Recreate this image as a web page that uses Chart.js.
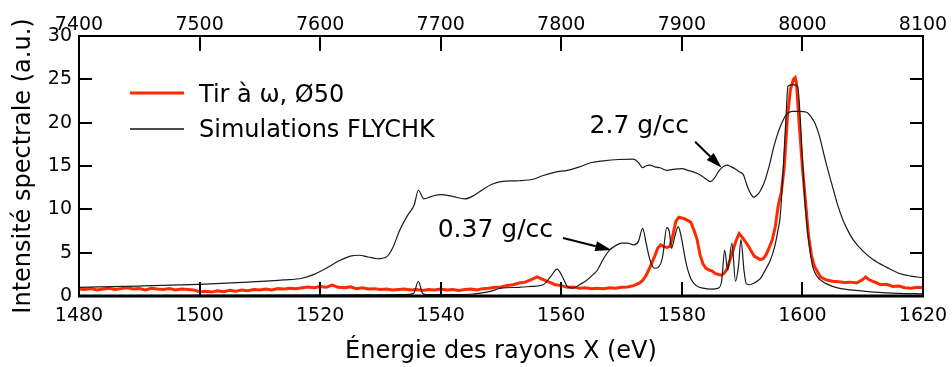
<!DOCTYPE html>
<html>
<head>
<meta charset="utf-8">
<script src="https://cdn.jsdelivr.net/npm/chart.js@4/dist/chart.umd.min.js"></script>
<style>
  html, body { margin: 0; padding: 0; background: #fff; }
  #spectre { display: block; }
</style>
</head>
<body>
<canvas id="spectre" width="952" height="367"></canvas>
<script>
// Spectre mesuré (tir à ω, Ø50)
const expE = [1480, 1481, 1482, 1483, 1484, 1485, 1486, 1487, 1488, 1489, 1490, 1491, 1492, 1493, 1494, 1495, 1496, 1497, 1498, 1499,
  1500, 1501, 1502, 1503, 1504, 1505, 1506, 1507, 1508, 1509, 1510, 1511, 1512, 1513, 1514, 1515, 1516, 1517, 1518, 1519,
  1520, 1521, 1522, 1523, 1524, 1525, 1526, 1527, 1528, 1529, 1530, 1531, 1532, 1533, 1534, 1535, 1536, 1537, 1538, 1539,
  1540, 1541, 1542, 1543, 1544, 1545, 1546, 1547, 1548, 1549, 1550, 1551, 1552, 1553, 1554, 1555, 1556, 1557, 1558, 1559,
  1560, 1561, 1562, 1563, 1564, 1565, 1566, 1567, 1568, 1569, 1570, 1571, 1572, 1573, 1573.5, 1574, 1574.5, 1575, 1575.5, 1576,
  1576.5, 1577, 1577.5, 1578, 1578.5, 1579, 1579.5, 1580, 1580.5, 1581, 1581.5, 1582, 1582.5, 1583, 1583.5, 1584, 1584.5, 1585, 1585.5, 1586,
  1586.5, 1587, 1587.5, 1588, 1588.5, 1589, 1589.5, 1590, 1590.5, 1591, 1591.5, 1592, 1592.5, 1593, 1593.5, 1594, 1594.5, 1595, 1595.5, 1596,
  1596.5, 1597, 1597.5, 1598, 1598.5, 1598.8, 1599, 1599.5, 1600, 1600.5, 1601, 1601.5, 1602, 1602.5, 1603, 1604, 1605, 1606, 1607, 1608,
  1609, 1610, 1610.5, 1611, 1612, 1613, 1614, 1615, 1616, 1617, 1618, 1619, 1620];
const expI = [0.8, 0.75, 0.85, 0.7, 0.8, 0.9, 0.75, 0.85, 0.95, 0.8, 0.85, 0.7, 0.9, 0.8, 0.75, 0.85, 0.7, 0.8, 0.75, 0.7,
  0.5, 0.55, 0.45, 0.6, 0.5, 0.65, 0.55, 0.7, 0.6, 0.75, 0.7, 0.8, 0.7, 0.85, 0.8, 0.9, 0.85, 0.95, 1.05, 0.95,
  1.1, 1.0, 1.25, 1.0, 0.95, 1.05, 0.85, 0.95, 0.8, 0.85, 0.75, 0.8, 0.7, 0.75, 0.8, 0.7, 0.75, 0.65, 0.75, 0.7,
  0.8, 0.7, 0.75, 0.65, 0.75, 0.8, 0.7, 0.85, 0.9, 1.0, 1.05, 1.2, 1.3, 1.5, 1.6, 1.9, 2.2, 1.9, 1.6, 1.3,
  1.2, 1.0, 1.05, 0.9, 0.95, 0.85, 0.9, 0.85, 0.95, 0.9, 1.0, 1.05, 1.2, 1.5, 1.8, 2.3, 3.0, 3.8, 4.6, 5.5,
  5.9, 5.7, 5.6, 5.7, 7.0, 8.6, 9.1, 9.0, 8.9, 8.7, 8.5, 7.6, 6.6, 4.8, 3.7, 3.2, 3.0, 2.9, 2.6, 2.5,
  2.4, 2.6, 3.1, 4.2, 5.3, 6.4, 7.2, 6.8, 6.3, 5.8, 5.2, 4.6, 4.4, 4.2, 4.3, 4.8, 5.6, 6.5, 8.0, 10.5,
  12.0, 15.0, 20.5, 23.8, 25.0, 25.2, 24.6, 19.5, 14.8, 11.0, 7.0, 4.7, 3.4, 2.8, 2.2, 1.85, 1.7, 1.65, 1.55, 1.6,
  1.5, 1.9, 2.2, 1.9, 1.6, 1.3, 1.35, 1.1, 1.15, 0.95, 0.9, 1.0, 0.95];

// Simulation FLYCHK, 0.37 g/cc
const lowE = [1480, 1500, 1520, 1534, 1535.5, 1536.3, 1537, 1538, 1545, 1548, 1550, 1553, 1555, 1557, 1558.3, 1559.3, 1560.2, 1561, 1562, 1563,
  1564, 1565, 1566, 1567, 1568, 1569, 1570, 1571, 1572, 1572.8, 1573.5, 1574.1, 1574.7, 1575.5, 1576.2, 1576.8, 1577.5, 1577.9, 1578.3, 1578.8,
  1579.4, 1579.9, 1580.7, 1581.5, 1582.4, 1583.5, 1585, 1586, 1586.6, 1587.1, 1587.6, 1588.3, 1588.9, 1589.4, 1589.8, 1590.3, 1590.7, 1591.3, 1592, 1593,
  1594, 1594.6, 1595.4, 1596, 1596.3, 1596.8, 1597.3, 1597.6, 1598.4, 1599.2, 1599.6, 1600, 1600.4, 1600.9, 1601.3, 1601.7, 1602.5, 1603.3, 1604, 1606,
  1608, 1612, 1616, 1620];
const lowI = [0.05, 0.08, 0.1, 0.15, 0.3, 1.7, 0.3, 0.15, 0.2, 0.5, 0.9, 1.0, 1.1, 1.3, 2.3, 3.1, 2.2, 1.1, 0.9, 1.3,
  1.7, 2.3, 3.0, 4.3, 5.3, 5.8, 6.1, 6.1, 5.9, 6.3, 7.8, 6.0, 4.2, 3.2, 3.4, 4.5, 7.9, 7.5, 5.5, 6.8,
  8.0, 6.8, 3.8, 2.0, 1.2, 0.9, 0.8, 0.9, 1.7, 5.3, 3.0, 6.1, 1.7, 3.5, 6.5, 3.0, 1.4, 1.3, 1.5, 2.0,
  3.2, 4.0, 5.7, 7.8, 9.1, 14.5, 21.0, 24.2, 24.4, 24.2, 21.0, 15.7, 11.0, 7.2, 5.0, 3.4, 2.2, 1.7, 1.4, 0.9,
  0.7, 0.45, 0.3, 0.25];

// Simulation FLYCHK, 2.7 g/cc
const highE = [1480, 1490, 1500, 1508, 1514, 1517, 1519, 1521, 1523, 1525, 1526.5, 1528, 1529.5, 1531, 1532, 1533.2, 1534.5, 1535.6, 1536.3, 1537.2,
  1538.5, 1540, 1542, 1544, 1545.5, 1547, 1548.5, 1550, 1553, 1555.5, 1557, 1559, 1561, 1563, 1565, 1567, 1569.5, 1572, 1572.8, 1573.5,
  1574, 1574.7, 1575.5, 1576.4, 1577.5, 1578.5, 1580, 1581, 1582, 1583, 1584, 1584.7, 1585.4, 1586, 1586.8, 1587.5, 1588.2, 1589, 1589.6, 1590.2,
  1590.6, 1591, 1591.5, 1591.9, 1592.4, 1592.9, 1593.5, 1594, 1594.6, 1595.1, 1595.7, 1596.3, 1597.3, 1598.4, 1599.5, 1600.7, 1601.4, 1602.1, 1602.8, 1603.4,
  1604.2, 1605, 1605.8, 1606.7, 1607.5, 1608.4, 1610, 1611.7, 1614, 1616.1, 1618, 1620];
const highI = [1.0, 1.15, 1.35, 1.6, 1.85, 2.05, 2.5, 3.2, 4.0, 4.6, 4.7, 4.5, 4.3, 4.5, 5.5, 7.6, 9.3, 10.5, 12.2, 11.2,
  11.5, 11.7, 11.5, 11.2, 11.6, 12.3, 12.9, 13.2, 13.3, 13.5, 13.9, 14.3, 14.5, 14.9, 15.4, 15.6, 15.75, 15.8, 15.4, 14.8,
  15.0, 15.1, 14.9, 14.8, 14.5, 14.6, 14.7, 14.5, 14.3, 14.0, 13.5, 13.2, 13.6, 14.3, 14.9, 15.1, 14.9, 14.6, 14.3, 14.0,
  13.2, 12.4, 11.7, 11.4, 11.6, 12.0, 12.8, 13.8, 15.3, 16.8, 18.3, 19.5, 20.9, 21.3, 21.3, 21.2, 20.7, 19.9, 18.5, 16.8,
  14.6, 12.6, 10.6, 8.8, 7.6, 6.5, 5.2, 4.2, 3.3, 2.6, 2.3, 2.1];

// Graduations des axes
const xTicks = [1480, 1500, 1520, 1540, 1560, 1580, 1600, 1620];
const xTopTicks = [7400, 7500, 7600, 7700, 7800, 7900, 8000, 8100];
const yTicks = [0, 5, 10, 15, 20, 25, 30];

const FONT = '"DejaVu Sans", Verdana, sans-serif';
const pts = (xs, ys) => xs.map((x, i) => ({ x: x, y: ys[i] }));
const plain = v => String(v);
// taille fixe des axes, sans marge ajoutée pour les étiquettes qui débordent
const fixH = h => s => { s.height = h; s.paddingLeft = 0; s.paddingRight = 0; };

// Cadre, graduations intérieures, légende et annotations
const framePlugin = {
    id: 'frame',
    afterDatasetsDraw(chart) {
        const { ctx, chartArea: a, scales } = chart;
        const x = scales.x, xt = scales.x2, y = scales.y;
        ctx.save();
        ctx.strokeStyle = '#000';
        ctx.lineWidth = 2;
        ctx.beginPath();
        xTicks.forEach(v => {
            const p = Math.round(x.getPixelForValue(v));
            ctx.moveTo(p, a.bottom); ctx.lineTo(p, a.bottom - 14);
        });
        xTopTicks.forEach(v => {
            const p = Math.round(xt.getPixelForValue(v));
            ctx.moveTo(p, a.top); ctx.lineTo(p, a.top + 15);
        });
        yTicks.forEach(v => {
            const p = Math.round(y.getPixelForValue(v));
            ctx.moveTo(a.left, p); ctx.lineTo(a.left + 13, p);
            ctx.moveTo(a.right, p); ctx.lineTo(a.right - 13, p);
        });
        ctx.stroke();
        ctx.strokeRect(a.left, a.top, a.right - a.left, a.bottom - a.top);
        ctx.lineWidth = 3;
        ctx.beginPath();
        ctx.moveTo(a.left - 1, a.bottom); ctx.lineTo(a.right + 1, a.bottom);
        ctx.stroke();

        // Légende
        ctx.font = '24px ' + FONT;
        ctx.fillStyle = '#000';
        ctx.textBaseline = 'alphabetic';
        ctx.textAlign = 'left';
        const lx = a.left + 51;
        ctx.strokeStyle = '#ff2a00';
        ctx.lineWidth = 3;
        ctx.beginPath(); ctx.moveTo(lx, a.top + 57); ctx.lineTo(lx + 54, a.top + 57); ctx.stroke();
        ctx.strokeStyle = '#111';
        ctx.lineWidth = 1.5;
        ctx.beginPath(); ctx.moveTo(lx, a.top + 93); ctx.lineTo(lx + 54, a.top + 93); ctx.stroke();
        ctx.fillText('Tir à ω, Ø50', lx + 69, a.top + 66);
        ctx.fillText('Simulations FLYCHK', lx + 69, a.top + 101);

        // Annotations avec flèches
        const notes = [
            { text: '2.7 g/cc', tx: 1564.7, ty: 18.8, from: [1582.2, 17.8], to: [1586.6, 14.8] },
            { text: '0.37 g/cc', tx: 1539.5, ty: 6.8, from: [1560.3, 6.7], to: [1568.3, 5.3] }
        ];
        ctx.font = '25px ' + FONT;
        notes.forEach(n => {
            ctx.fillText(n.text, x.getPixelForValue(n.tx), y.getPixelForValue(n.ty));
            const x0 = x.getPixelForValue(n.from[0]), y0 = y.getPixelForValue(n.from[1]);
            const x1 = x.getPixelForValue(n.to[0]), y1 = y.getPixelForValue(n.to[1]);
            const ang = Math.atan2(y1 - y0, x1 - x0);
            const hl = 16, hw = 5;
            ctx.strokeStyle = '#000';
            ctx.lineWidth = 2;
            ctx.beginPath();
            ctx.moveTo(x0, y0);
            ctx.lineTo(x1 - hl * Math.cos(ang), y1 - hl * Math.sin(ang));
            ctx.stroke();
            ctx.beginPath();
            ctx.moveTo(x1, y1);
            ctx.lineTo(x1 - hl * Math.cos(ang) + hw * Math.sin(ang), y1 - hl * Math.sin(ang) - hw * Math.cos(ang));
            ctx.lineTo(x1 - hl * Math.cos(ang) - hw * Math.sin(ang), y1 - hl * Math.sin(ang) + hw * Math.cos(ang));
            ctx.closePath();
            ctx.fillStyle = '#000';
            ctx.fill();
        });
        ctx.restore();
    }
};

const ctx = document.getElementById('spectre').getContext('2d');
new Chart(ctx, {
    type: 'line',
    data: {
        datasets: [
            {
                label: 'Tir à ω, Ø50',
                data: pts(expE, expI),
                borderColor: '#ff2a00',
                borderWidth: 3,
                pointRadius: 0,
                tension: 0,
                order: 2
            },
            {
                label: 'Simulations FLYCHK 0.37 g/cc',
                data: pts(lowE, lowI),
                borderColor: '#1a1a1a',
                borderWidth: 1.2,
                pointRadius: 0,
                cubicInterpolationMode: 'monotone',
                order: 1
            },
            {
                label: 'Simulations FLYCHK 2.7 g/cc',
                data: pts(highE, highI),
                borderColor: '#1a1a1a',
                borderWidth: 1.2,
                pointRadius: 0,
                cubicInterpolationMode: 'monotone',
                order: 1
            }
        ]
    },
    options: {
        responsive: false,
        animation: false,
        devicePixelRatio: 1,
        layout: { padding: { left: 0, right: 29, top: 0, bottom: 0 } },
        plugins: {
            legend: { display: false },
            tooltip: { enabled: false }
        },
        scales: {
            x: {
                type: 'linear',
                position: 'bottom',
                min: 1480,
                max: 1620,
                afterFit: fixH(71),
                afterBuildTicks: s => { s.ticks = xTicks.map(v => ({ value: v })); },
                grid: { display: false, drawTicks: false },
                border: { display: false },
                ticks: { color: '#000', padding: 9, maxRotation: 0, callback: plain, font: { family: FONT, size: 19 } },
                title: {
                    display: true,
                    text: 'Énergie des rayons X (eV)',
                    color: '#000',
                    padding: { top: 0, bottom: 1 },
                    font: { family: FONT, size: 24 }
                }
            },
            x2: {
                type: 'linear',
                position: 'top',
                min: 7400,
                max: 8100,
                afterFit: fixH(36),
                afterBuildTicks: s => { s.ticks = xTopTicks.map(v => ({ value: v })); },
                grid: { display: false, drawTicks: false },
                border: { display: false },
                ticks: { color: '#000', padding: 0, maxRotation: 0, callback: plain, font: { family: FONT, size: 19 } }
            },
            y: {
                type: 'linear',
                position: 'left',
                min: 0,
                max: 30,
                afterFit: s => { s.width = 79; s.paddingTop = 0; s.paddingBottom = 0; },
                afterBuildTicks: s => { s.ticks = yTicks.map(v => ({ value: v })); },
                grid: { display: false, drawTicks: false },
                border: { display: false },
                ticks: { color: '#000', padding: 7, callback: plain, font: { family: FONT, size: 19 } },
                title: {
                    display: true,
                    text: 'Intensité spectrale (a.u.)',
                    color: '#000',
                    padding: { top: 9, bottom: 0 },
                    font: { family: FONT, size: 24 }
                }
            }
        }
    },
    plugins: [framePlugin]
});
</script>
</body>
</html>
